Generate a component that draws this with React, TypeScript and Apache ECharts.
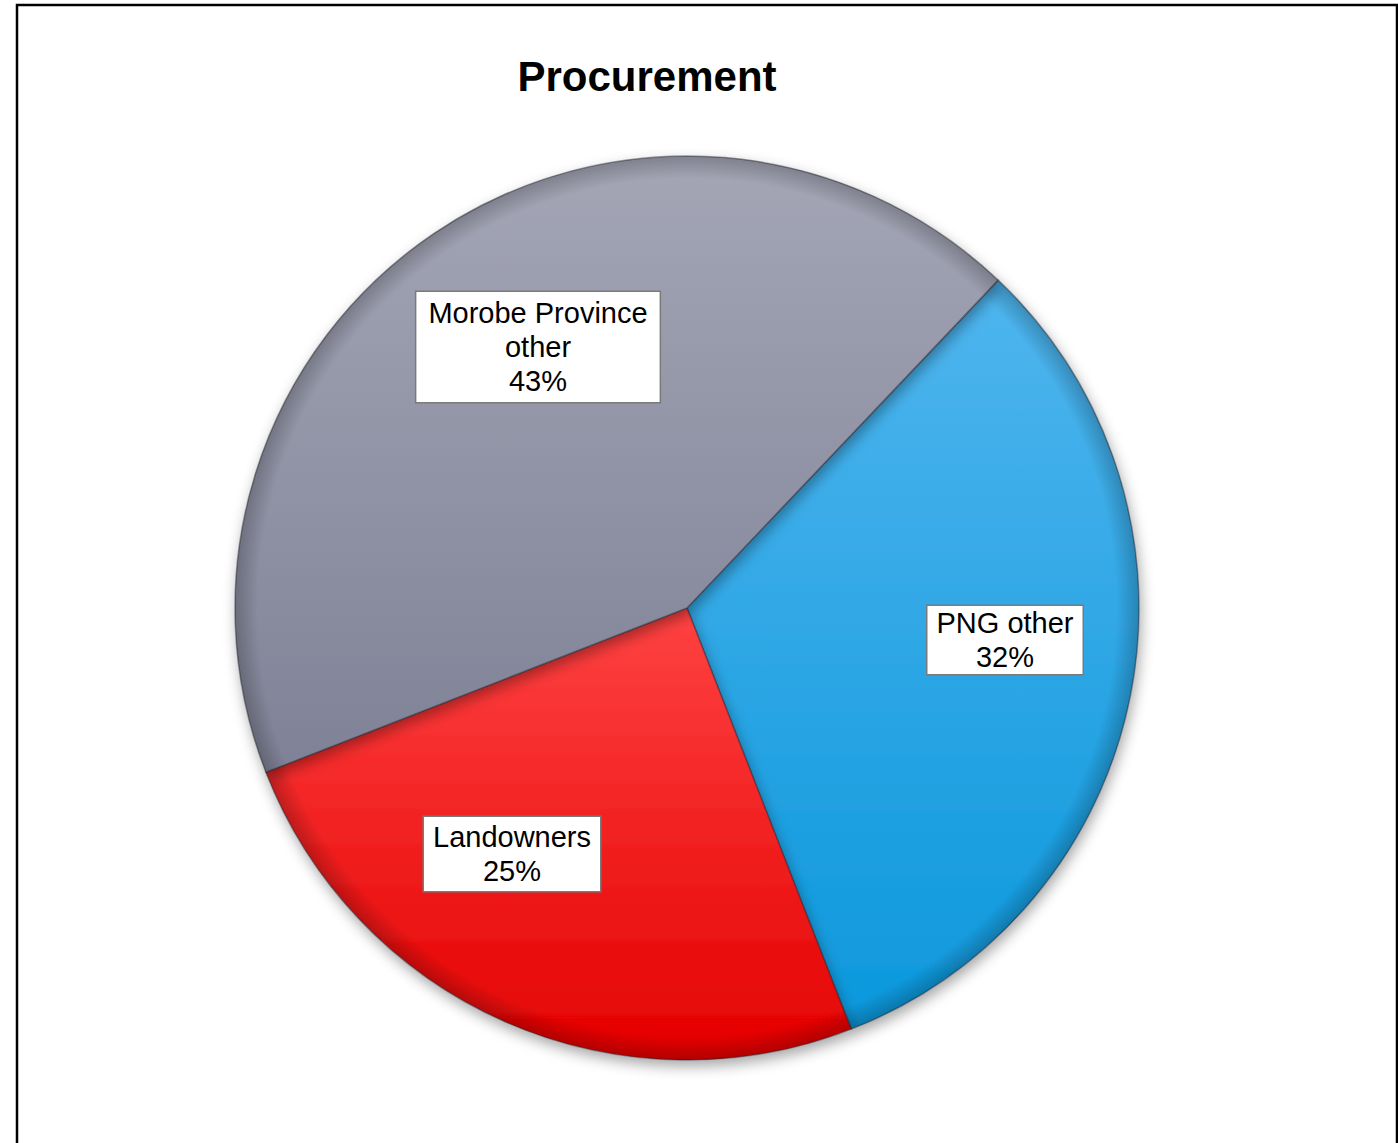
import React, { useEffect, useRef } from "react";
import * as echarts from "echarts";

// Procurement split by supplier group (percent)
const categories = ["PNG other", "Landowners", "Morobe Province other"];
const shares = [32, 25, 43];
const labelTexts = ["PNG other\n32%", "Landowners\n25%", "Morobe Province\nother\n43%"];

// Slice fills: [top, bottom] of a vertical gradient
const sliceColors: [string, string][] = [
  ["#4fb5ee", "#0c98dc"],
  ["#ff4242", "#e40000"],
  ["#a4a6b6", "#7f8296"],
];

// Label box centres, relative to the pie centre
const labelOffsets: [number, number][] = [
  [318, 32],
  [-175, 246],
  [-149, -261],
];
const labelPadding: [number, number][] = [
  [0, 9],
  [3, 9],
  [4, 12],
];

const CX = 687;
const CY = 608;
const R = 452;

export default function App() {
  const ref = useRef<HTMLDivElement>(null);

  useEffect(() => {
    if (!ref.current) return;
    const chart = echarts.init(ref.current, null, { renderer: "svg" });

    const data = categories.map((name, i) => ({
      name,
      value: shares[i],
      itemStyle: {
        color: new echarts.graphic.LinearGradient(0, 0, 0, 1, [
          { offset: 0, color: sliceColors[i][0] },
          { offset: 1, color: sliceColors[i][1] },
        ]),
      },
      label: {
        formatter: labelTexts[i],
        padding: labelPadding[i],
      },
    }));

    // same slices again, drawn on top, only to darken the rim for a bevelled look
    const rimData = categories.map((name, i) => ({ name, value: shares[i] }));

    chart.setOption({
      animation: false,
      backgroundColor: "#ffffff",
      title: {
        text: "Procurement",
        left: 642,
        top: 50,
        textAlign: "center",
        textStyle: {
          fontFamily: "Liberation Sans, Arial, sans-serif",
          fontSize: 42,
          fontWeight: "bold",
          color: "#000000",
        },
      },
      graphic: [
        {
          type: "rect",
          shape: { x: 17, y: 5, width: 1380, height: 1200 },
          style: { fill: "none", stroke: "#000000", lineWidth: 2.5 },
          silent: true,
          z: 100,
        },
      ],
      series: [
        {
          type: "pie",
          center: [CX, CY],
          radius: [0, R],
          startAngle: 46.5,
          clockwise: true,
          data,
          itemStyle: {
            borderColor: "rgba(40,40,50,0.45)",
            borderWidth: 1.5,
            shadowBlur: 14,
            shadowOffsetX: 2,
            shadowOffsetY: 6,
            shadowColor: "rgba(0,0,0,0.35)",
          },
          label: {
            show: true,
            position: "inside",
            fontFamily: "Liberation Sans, Arial, sans-serif",
            fontSize: 29,
            lineHeight: 34,
            color: "#000000",
            align: "center",
            verticalAlign: "middle",
            backgroundColor: "#ffffff",
            borderColor: "#7a7a7a",
            borderWidth: 1.5,
          },
          labelLine: { show: false },
          labelLayout: (params: any) => {
            const off = labelOffsets[params.dataIndex];
            return { x: CX + off[0], y: CY + off[1], align: "center", verticalAlign: "middle" };
          },
          emphasis: { disabled: true },
          z: 2,
        },
        {
          type: "pie",
          center: [CX, CY],
          radius: [0, R],
          startAngle: 46.5,
          clockwise: true,
          silent: true,
          data: rimData,
          itemStyle: {
            color: new echarts.graphic.RadialGradient(
              CX,
              CY,
              R,
              [
                { offset: 0, color: "rgba(0,0,0,0)" },
                { offset: 0.95, color: "rgba(0,0,0,0)" },
                { offset: 1, color: "rgba(0,0,0,0.22)" },
              ],
              true
            ),
            borderWidth: 0,
          },
          label: { show: false },
          labelLine: { show: false },
          emphasis: { disabled: true },
          z: 3,
        },
      ],
    });

    return () => chart.dispose();
  }, []);

  return (
    <div
      ref={ref}
      style={{ position: "absolute", left: 0, top: 0, width: 1398, height: 1143 }}
    />
  );
}
